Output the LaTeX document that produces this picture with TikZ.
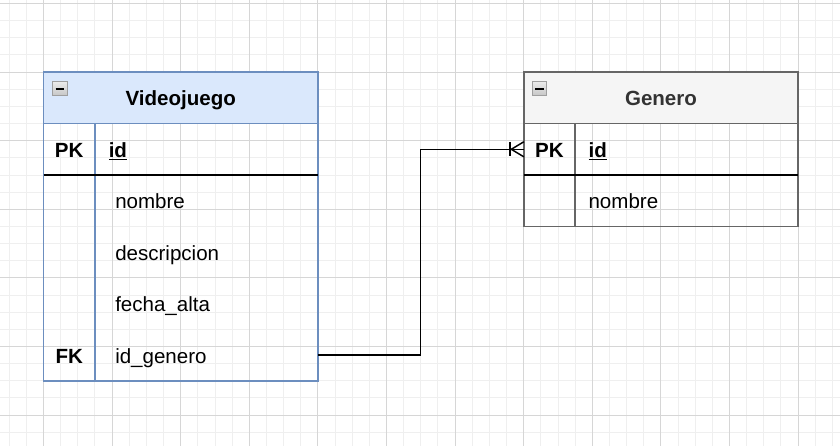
\documentclass[tikz,border=0pt]{standalone}
\usepackage{fontspec}
\setmainfont{Liberation Sans}
\usetikzlibrary{calc}
\definecolor{gridlight}{HTML}{EFEFEF}
\definecolor{griddark}{HTML}{D6D6D6}
\definecolor{vstroke}{HTML}{6C8EBF}
\definecolor{vfill}{HTML}{DAE8FC}
\definecolor{gstroke}{HTML}{666666}
\definecolor{gfill}{HTML}{F5F5F5}
\definecolor{gtext}{HTML}{333333}

\begin{document}
\begin{tikzpicture}[x=0.75pt,y=-0.75pt]
      \tikzset{gridminor/.style={draw=gridlight,line width=0.75pt},
        gridmajor/.style={draw=griddark,line width=0.75pt},
        tableline/.style={line width=1.2pt},
        keyline/.style={line width=1.5pt,draw=black},
        erline/.style={line width=1.1pt,draw=black},
        entry/.style={inner sep=0pt,
          text height=16pt,
          text depth=4pt,
          font=\fontsize{15.4}{18}\selectfont},
        field/.style={entry,anchor=west},
        keyfield/.style={entry,font=\fontsize{15.4}{18}\selectfont\bfseries},
        minusbox/.style={draw=gray!75,line width=0.6pt,
          top color=gray!15,bottom color=gray!45,
          minimum size=11pt,inner sep=0pt}
      }
      \fill[white] (0,0) rectangle (840,446);
      \useasboundingbox (0,0) rectangle (840,446);

      % grid
      \foreach \i in {-2,...,46}
        \draw[gridminor] ({43.5+17.15*\i},0) -- ({43.5+17.15*\i},446);
      \foreach \j in {0,...,25}
        \draw[gridminor] (0,{3.5+17.15*\j}) -- (840,{3.5+17.15*\j});
      \foreach \i in {0,...,11}
        \draw[gridmajor] ({43.5+68.6*\i},0) -- ({43.5+68.6*\i},446);
      \foreach \j in {0,...,6}
        \draw[gridmajor] (0,{3.5+68.6*\j}) -- (840,{3.5+68.6*\j});

      % Videojuego
      \filldraw[tableline,draw=vstroke,fill=vfill] (43.5,72.1) rectangle (317.9,123.5);
      \draw[tableline,draw=vstroke] (43.5,123.5) rectangle (317.9,380.8);
      \draw[tableline,draw=vstroke] (95,123.5) -- (95,380.8);
      \draw[keyline] (43.5,175) -- (317.9,175);
      \node [minusbox] (vmin) at (60,88.5) {};
      \draw [line width=1.5pt] ([xshift=2.5pt]vmin.west) -- ([xshift=-2.5pt]vmin.east);
      \node [keyfield] (vtitle) at (180.7,97.8) {Videojuego};
      \node [keyfield] (vpk) at (69.2,149.3) {PK};
      \node [field,font=\fontsize{15.4}{18}\selectfont\bfseries] (vid) at (108.5,149.3) {\underline{id}};
      \node [field] (vnombre) at (115,200.7) {nombre};
      \node [field] (vdesc) at (115,252.2) {descripcion};
      \node [field] (vfecha) at (115,303.6) {fecha\_alta};
      \node [keyfield] (vfklabel) at (69.2,355) {FK};
      \node [field] (vidgen) at (115,355) {id\_genero};

      % Genero
      \filldraw[tableline,draw=gstroke,fill=gfill] (523.8,72.1) rectangle (798.2,123.5);
      \draw[tableline,draw=gstroke] (523.8,123.5) rectangle (798.2,226.4);
      \draw[tableline,draw=gstroke] (575.2,123.5) -- (575.2,226.4);
      \draw[keyline] (523.8,175) -- (798.2,175);
      \node [minusbox] (gmin) at (539.5,88.5) {};
      \draw [line width=1.5pt] ([xshift=2.5pt]gmin.west) -- ([xshift=-2.5pt]gmin.east);
      \node [keyfield,text=gtext] (gtitle) at (661,97.8) {Genero};
      \node [keyfield] (gpklabel) at (549.5,149.3) {PK};
      \node [field,font=\fontsize{15.4}{18}\selectfont\bfseries] (gid) at (588.3,149.3) {\underline{id}};
      \node [field] (gnombre) at (588.3,200.7) {nombre};

      % relation
      \coordinate (vfk) at (317.9,355);
      \coordinate (gpk) at (523.8,149.3);
      \coordinate (bend) at (420.7,355);
      \draw [erline] (vfk)--(bend)|-(gpk);
      \draw [erline] ($(gpk)+(-13.8,-7)$)--($(gpk)+(-13.8,7)$);
      \draw [erline] ($(gpk)+(0,-7.5)$)--($(gpk)+(-12.5,0)$)--($(gpk)+(0,7.5)$);
    \end{tikzpicture}
\end{document}
